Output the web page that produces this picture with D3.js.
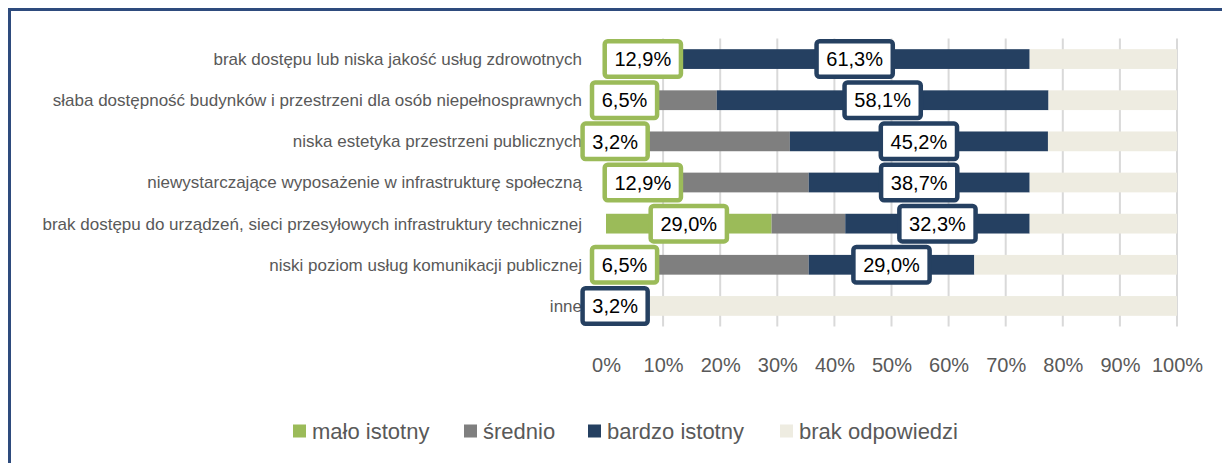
<!DOCTYPE html>
<html>
<head>
<meta charset="utf-8">
<script src="https://cdn.jsdelivr.net/npm/d3@7"></script>
<style>
  body { margin: 0; background: #fff; }
  text { font-family: "Liberation Sans", Arial, sans-serif; }
</style>
</head>
<body>
<div id="chart"></div>
<script>
// dane (%)
var categories = [
    "brak dostępu lub niska jakość usług zdrowotnych",
    "słaba dostępność budynków i przestrzeni dla osób niepełnosprawnych",
    "niska estetyka przestrzeni publicznych",
    "niewystarczające wyposażenie w infrastrukturę społeczną",
    "brak dostępu do urządzeń, sieci przesyłowych infrastruktury technicznej",
    "niski poziom usług komunikacji publicznej",
    "inne"
];
var maloIstotny     = [12.9, 6.5, 3.2, 12.9, 29.0, 6.5, 0];
var srednio         = [0, 12.9, 29.0, 22.6, 12.9, 29.0, 0];
var bardzoIstotny   = [61.3, 58.1, 45.2, 38.7, 32.3, 29.0, 3.2];
var brakOdpowiedzi  = [25.8, 22.5, 22.6, 25.8, 25.8, 35.5, 96.8];
var seriesNames = ["mało istotny", "średnio", "bardzo istotny", "brak odpowiedzi"];
var xTicks = [0, 10, 20, 30, 40, 50, 60, 70, 80, 90, 100];

var colors = ["#9bbb59", "#7f7f7f", "#254061", "#eeece1"];
var labelled = [true, false, true, false];

var svgWidth = 1222;
var svgHeight = 463;

var svg = d3.select("#chart")
            .append("svg")
            .attr("width", svgWidth)
            .attr("height", svgHeight);

// ramka
svg.append("rect")
   .attr("x", 9.5)
   .attr("y", 9.5)
   .attr("width", 1300)
   .attr("height", 600)
   .attr("fill", "none")
   .attr("stroke", "#2e4b7d")
   .attr("stroke-width", 3);

var rows = categories.map(function(c, i) {
    return {
        cat: c,
        "mało istotny": maloIstotny[i],
        "średnio": srednio[i],
        "bardzo istotny": bardzoIstotny[i],
        "brak odpowiedzi": brakOdpowiedzi[i]
    };
});

var stacked = d3.stack().keys(seriesNames)(rows);

var xScale = d3.scaleLinear()
               .domain([0, 100])
               .range([606, 1177]);

var yScale = d3.scaleBand()
               .domain(categories)
               .range([38.5, 326.5])
               .paddingInner(0.52)
               .paddingOuter(0.26);

// siatka
svg.append("g")
   .selectAll("line")
   .data(xTicks.filter(function(t) { return t > 0; }))
   .enter()
   .append("line")
   .attr("x1", function(d) { return xScale(d); })
   .attr("x2", function(d) { return xScale(d); })
   .attr("y1", 38.5)
   .attr("y2", 326.5)
   .attr("stroke", "#d9d9d9")
   .attr("stroke-width", 2);

// os X
var bottomAxis = d3.axisBottom(xScale)
                   .tickValues(xTicks)
                   .tickSize(0)
                   .tickPadding(31)
                   .tickFormat(function(d) { return d + "%"; });

var xAxis = svg.append("g")
               .attr("transform", "translate(0, 326.5)")
               .call(bottomAxis);
xAxis.select(".domain").remove();
xAxis.selectAll("text")
     .attr("font-size", 20)
     .attr("fill", "#595959")
     .style("font-family", "'Liberation Sans', Arial, sans-serif");

// etykiety kategorii
svg.append("g")
   .selectAll("text")
   .data(categories)
   .enter()
   .append("text")
   .attr("x", 582)
   .attr("y", function(d) { return yScale(d) + yScale.bandwidth() / 2; })
   .attr("dy", "0.35em")
   .attr("text-anchor", "end")
   .attr("font-size", 17)
   .attr("fill", "#595959")
   .text(function(d) { return d; });

// slupki
var layers = svg.append("g")
                .selectAll("g")
                .data(stacked)
                .enter()
                .append("g")
                .attr("fill", function(d, i) { return colors[i]; });

layers.selectAll("rect")
      .data(function(d) { return d; })
      .enter()
      .append("rect")
      .attr("x", function(d) { return xScale(d[0]); })
      .attr("width", function(d) { return xScale(d[1]) - xScale(d[0]); })
      .attr("y", function(d) { return yScale(d.data.cat); })
      .attr("height", yScale.bandwidth());

// etykiety danych w ramkach
var fmt = function(v) { return d3.format(".1f")(v).replace(".", ",") + "%"; };
var labelsGroup = svg.append("g");

stacked.forEach(function(layer, si) {
    if (!labelled[si]) return;
    layer.forEach(function(d) {
        var v = d[1] - d[0];
        if (v <= 0) return;
        var cx = xScale((d[0] + d[1]) / 2);
        var cy = yScale(d.data.cat) + yScale.bandwidth() / 2;
        var g = labelsGroup.append("g");
        var rect = g.append("rect");
        var t = g.append("text")
                 .attr("x", cx)
                 .attr("y", cy)
                 .attr("dy", "0.36em")
                 .attr("text-anchor", "middle")
                 .attr("font-size", 20)
                 .attr("fill", "#000")
                 .text(fmt(v));
        var w = t.node().getComputedTextLength();
        rect.attr("x", cx - w / 2 - 9.75)
            .attr("y", cy - 17.75)
            .attr("width", w + 19.5)
            .attr("height", 35.5)
            .attr("rx", 3)
            .attr("fill", "#fff")
            .attr("stroke", colors[si])
            .attr("stroke-width", 4.5);
    });
});

// legenda
var legendX = [293, 464, 588, 780];
var legend = svg.append("g")
                .selectAll("g")
                .data(seriesNames)
                .enter()
                .append("g")
                .attr("transform", function(d, i) { return "translate(" + legendX[i] + ", 431)"; });

legend.append("rect")
      .attr("x", 0)
      .attr("y", -6.5)
      .attr("width", 13)
      .attr("height", 13)
      .attr("fill", function(d, i) { return colors[i]; });

legend.append("text")
      .attr("x", 19)
      .attr("y", 0)
      .attr("dy", "0.35em")
      .attr("font-size", 22)
      .attr("fill", "#595959")
      .text(function(d) { return d; });
</script>
</body>
</html>
